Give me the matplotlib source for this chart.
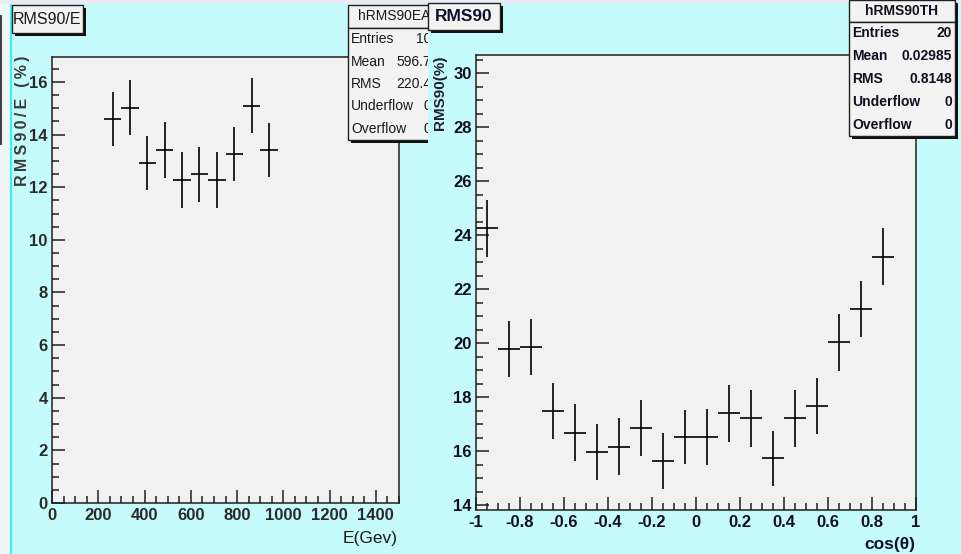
#!/usr/bin/env python3
"""
RMS90 resolution vs energy and vs cos(theta), drawn in the ROOT canvas style
"""

import matplotlib
matplotlib.use("Agg")
import matplotlib.pyplot as plt
from matplotlib.patches import Rectangle
from matplotlib.ticker import MultipleLocator, FuncFormatter
from matplotlib import font_manager

# hRMS90EA : RMS90/E (%) in 75 GeV bins
energy = [262.5, 337.5, 412.5, 487.5, 562.5, 637.5, 712.5, 787.5, 862.5, 937.5]
rms_e = [14.59, 15.03, 12.92, 13.42, 12.28, 12.49, 12.28, 13.26, 15.10, 13.41]
rms_e_err = [1.02, 1.04, 1.04, 1.05, 1.05, 1.05, 1.05, 1.02, 1.04, 1.03]
e_halfbin = 37.5
stats_e = [("Entries", "10"), ("Mean", "596.7"), ("RMS", "220.4"),
           ("Underflow", "0"), ("Overflow", "0")]

# hRMS90TH : RMS90 (%) in cos(theta) bins of 0.1
cos_th = [-0.95, -0.85, -0.75, -0.65, -0.55, -0.45, -0.35, -0.25, -0.15, -0.05,
          0.05, 0.15, 0.25, 0.35, 0.45, 0.55, 0.65, 0.75, 0.85]
rms_th = [24.25, 19.77, 19.86, 17.49, 16.69, 15.98, 16.16, 16.86, 15.63, 16.52,
          16.52, 17.40, 17.22, 15.73, 17.22, 17.67, 20.03, 21.26, 23.20]
rms_th_err = [1.05, 1.04, 1.05, 1.05, 1.05, 1.04, 1.05, 1.05, 1.03, 1.01,
              1.05, 1.05, 1.05, 1.03, 1.05, 1.05, 1.05, 1.05, 1.05]
th_halfbin = 0.05
stats_th = [("Entries", "20"), ("Mean", "0.02985"), ("RMS", "0.8148"),
            ("Underflow", "0"), ("Overflow", "0")]

W, H = 961, 554
CANVAS = "#c6fbfc"
FRAME = "#f1f1f1"

installed = {f.name for f in font_manager.fontManager.ttflist}
FONT = [f for f in ["Liberation Sans Narrow", "Liberation Sans", "DejaVu Sans"] if f in installed]
plt.rcParams["font.family"] = FONT


def fx(px):
    return px / W


def fy(py):
    return 1 - py / H


def pbox(ax, x0, y0, x1, y1, shadow=3, face="#f3f3f3", z=6):
    # ROOT-like pave with a drop shadow to the lower right
    tr = ax.figure.transFigure
    if shadow:
        ax.add_patch(Rectangle((fx(x0 + shadow), fy(y1 + shadow)), (x1 - x0) / W, (y1 - y0) / H,
                               transform=tr, facecolor="#101010", edgecolor="none",
                               clip_on=False, zorder=z))
    ax.add_patch(Rectangle((fx(x0), fy(y1)), (x1 - x0) / W, (y1 - y0) / H,
                           transform=tr, facecolor=face, edgecolor="#202020", lw=1,
                           clip_on=False, zorder=z + 0.1))


def stats_box(ax, name, rows, x0, x1, y0, yh, y1, xval, color, weight="normal"):
    tr = ax.figure.transFigure
    pbox(ax, x0, y0, x1, yh)
    pbox(ax, x0, yh, x1, y1)
    ax.text(fx((x0 + x1) / 2), fy((y0 + yh) / 2), name, transform=tr, ha="center", va="center",
            fontsize=10, fontweight=weight, color=color, zorder=8, clip_on=False)
    step = (y1 - yh) / len(rows)
    for i, (k, v) in enumerate(rows):
        yc = yh + step * (i + 0.5)
        ax.text(fx(x0 + 3), fy(yc), k, transform=tr, ha="left", va="center",
                fontsize=10, fontweight=weight, color=color, zorder=8, clip_on=False)
        ax.text(fx(xval), fy(yc), v, transform=tr, ha="right", va="center",
                fontsize=10, fontweight=weight, color=color, zorder=8, clip_on=False)


def style_axes(ax, color):
    ax.set_facecolor(FRAME)
    for s in ax.spines.values():
        s.set_color("#202020")
        s.set_linewidth(1.1)
    ax.tick_params(which="both", direction="in", top=False, right=False, width=1.1, color="#202020")
    ax.tick_params(which="major", length=9.5, labelsize=12, labelcolor=color)
    ax.tick_params(which="minor", length=4.8)
    ax.tick_params(axis="y", pad=3)
    ax.tick_params(axis="x", pad=3.5)
    for lab in ax.get_xticklabels() + ax.get_yticklabels():
        lab.set_fontweight("bold")


fig = plt.figure(figsize=(W / 100, H / 100), dpi=100)
fig.patch.set_facecolor(CANVAS)

# left pad background with the thin border strip
pad_l = fig.add_axes([0, 0, 1, 1], zorder=0)
pad_l.set_axis_off()
pad_l.add_patch(Rectangle((0, 0), fx(10), 1, transform=fig.transFigure,
                          facecolor="#eef6f8", edgecolor="none"))
pad_l.add_patch(Rectangle((fx(10), 0), fx(2), 1, transform=fig.transFigure,
                          facecolor="#2ff4f8", edgecolor="none"))
pad_l.add_patch(Rectangle((0, fy(145)), fx(1.5), 130 / H, transform=fig.transFigure,
                          facecolor="#404040", edgecolor="none"))
pad_l.add_patch(Rectangle((0, fy(4)), 1, 4 / H, transform=fig.transFigure,
                          facecolor="#e8ecf6", edgecolor="none"))

# energy panel
ax1 = fig.add_axes([fx(52), fy(503), (399 - 52) / W, (503 - 57) / H], zorder=1)
ax1.errorbar(energy, rms_e, yerr=rms_e_err, xerr=e_halfbin, fmt="none",
             ecolor="black", elinewidth=1.2, capsize=0)
ax1.set_xlim(0, 1500)
ax1.set_ylim(0, 16.95)
ax1.xaxis.set_major_locator(MultipleLocator(200))
ax1.xaxis.set_minor_locator(MultipleLocator(50))
ax1.yaxis.set_major_locator(MultipleLocator(2))
ax1.yaxis.set_minor_locator(MultipleLocator(0.5))
style_axes(ax1, "#2a2a2a")

pbox(ax1, 12, 5, 83, 33)
ax1.text(fx(47.5), fy(19), "RMS90/E", transform=fig.transFigure, ha="center", va="center",
         fontsize=11.5, color="#1a1a1a", zorder=8, clip_on=False)
stats_box(ax1, "hRMS90EA", stats_e, 348, 440, 5, 28, 140, 431, "#1a1a1a")
fig.text(fx(23), fy(56), "\u2009".join("RMS90/E (%)"), rotation=90, ha="center", va="top",
         fontsize=11.5, fontweight="bold", color="#3a3a3a", zorder=1)
fig.text(fx(398), fy(539), "E(Gev)", ha="right", va="center", fontsize=12.5, color="#1a1a1a")

# cos(theta) pad covers everything right of x=428
pad_r = fig.add_axes([fx(428), 0, 1 - fx(428), fy(4)], zorder=2)
pad_r.set_axis_off()
pad_r.add_patch(Rectangle((0, 0), 1, 1, transform=pad_r.transAxes,
                          facecolor=CANVAS, edgecolor="none"))

ax2 = fig.add_axes([fx(476), fy(510), (916 - 476) / W, (510 - 55) / H], zorder=3)
ax2.errorbar(cos_th, rms_th, yerr=rms_th_err, xerr=th_halfbin, fmt="none",
             ecolor="black", elinewidth=1.2, capsize=0)
ax2.set_xlim(-1, 1)
ax2.set_ylim(13.82, 30.67)
ax2.xaxis.set_major_locator(MultipleLocator(0.2))
ax2.xaxis.set_minor_locator(MultipleLocator(0.05))
ax2.xaxis.set_major_formatter(FuncFormatter(lambda v, p: "%g" % round(v, 2)))
ax2.yaxis.set_major_locator(MultipleLocator(2))
ax2.yaxis.set_minor_locator(MultipleLocator(0.5))
style_axes(ax2, "#101020")

pbox(ax2, 428, 3, 500, 30)
ax2.text(fx(464), fy(16.5), "RMS90", transform=fig.transFigure, ha="center", va="center",
         fontsize=12.5, fontweight="bold", color="#101030", zorder=8, clip_on=False)
stats_box(ax2, "hRMS90TH", stats_th, 849, 955, 0, 22, 136, 952, "#101020", weight="bold")
fig.text(fx(440), fy(56), "RMS90(%)", rotation=90, ha="center", va="top",
         fontsize=11, fontweight="bold", color="#202030", zorder=4)
fig.text(fx(915), fy(545), "cos(\u03b8)", ha="right", va="center", fontsize=12.5,
         fontweight="bold", color="#101030", zorder=4)

fig.savefig("out.png", dpi=100, facecolor=fig.get_facecolor())
